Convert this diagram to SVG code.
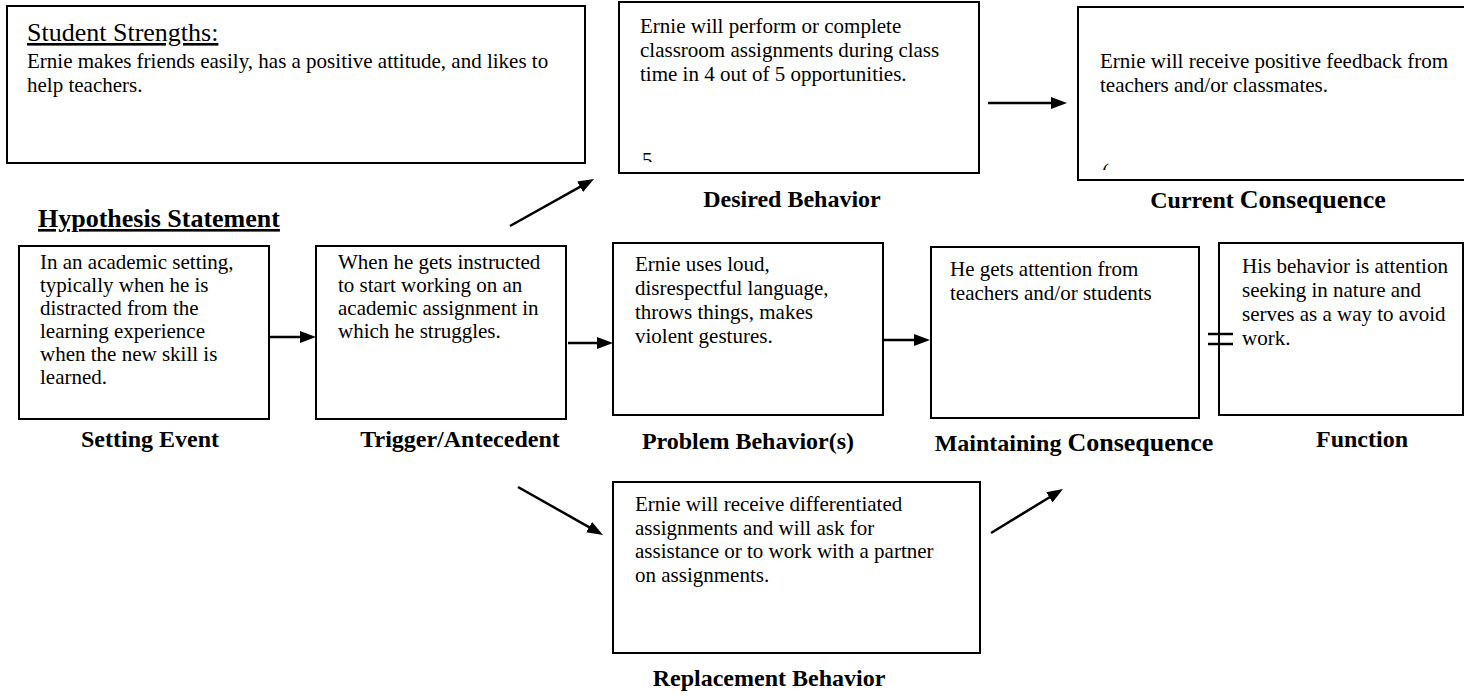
<svg xmlns="http://www.w3.org/2000/svg" width="1464" height="696" viewBox="0 0 1464 696">
<defs>
<style>
.box{fill:none;stroke:#000;stroke-width:2}
.boxw{fill:#fff;stroke:#000;stroke-width:2}
.t{font-family:"Liberation Serif","Times New Roman",serif;font-size:21px;fill:#000}
.lbl{font-family:"Liberation Serif","Times New Roman",serif;font-size:24px;font-weight:bold;fill:#000;text-anchor:middle}
.big{font-size:26px}
.conn line{stroke:#000;stroke-width:2.5;fill:none}
</style>
<marker id="ah" viewBox="0 0 16 12" refX="6" refY="6" markerWidth="16" markerHeight="12" markerUnits="userSpaceOnUse" orient="auto"><path d="M0,0 L16,6 L0,12 z" fill="#000"/></marker>
<clipPath id="c1"><rect x="620" y="140" width="100" height="22"/></clipPath>
<clipPath id="c2"><rect x="1080" y="150" width="100" height="20"/></clipPath>
</defs>
<rect width="1464" height="696" fill="#fff"/>

<g id="strengths">
<rect class="boxw" x="7" y="6" width="578" height="157"/>
<text class="t big" x="27" y="41" text-decoration="underline">Student Strengths:</text>
<text class="t" x="27" y="68">Ernie makes friends easily, has a positive attitude, and likes to</text>
<text class="t" x="27" y="92">help teachers.</text>
</g>

<g id="hypothesis">
<text class="lbl big" x="38" y="227" style="text-anchor:start" text-decoration="underline">Hypothesis Statement</text>
</g>

<g id="desired">
<rect class="boxw" x="619" y="2" width="360" height="171"/>
<text class="t" x="640" y="33">Ernie will perform or complete</text>
<text class="t" x="640" y="57">classroom assignments during class</text>
<text class="t" x="640" y="81">time in 4 out of 5 opportunities.</text>
<text class="t" x="642" y="167" clip-path="url(#c1)">5</text>
<text class="lbl" x="792" y="207">Desired Behavior</text>
</g>

<g id="current">
<rect class="boxw" x="1078" y="7" width="400" height="173"/>
<text class="t" x="1100" y="68">Ernie will receive positive feedback from</text>
<text class="t" x="1100" y="92">teachers and/or classmates.</text>
<text class="t" x="1102" y="178" clip-path="url(#c2)">(</text>
<text class="lbl" x="1268" y="208">Current <tspan class="big">Consequence</tspan></text>
</g>

<g id="setting">
<rect class="boxw" x="19" y="246" width="250" height="173"/>
<text class="t" x="40" y="269">In an academic setting,</text>
<text class="t" x="40" y="292">typically when he is</text>
<text class="t" x="40" y="315">distracted from the</text>
<text class="t" x="40" y="338">learning experience</text>
<text class="t" x="40" y="361">when the new skill is</text>
<text class="t" x="40" y="384">learned.</text>
<text class="lbl" x="150" y="447">Setting Event</text>
</g>

<g id="trigger">
<rect class="boxw" x="316" y="246" width="250" height="173"/>
<text class="t" x="338" y="269">When he gets instructed</text>
<text class="t" x="338" y="292">to start working on an</text>
<text class="t" x="338" y="315">academic assignment in</text>
<text class="t" x="338" y="338">which he struggles.</text>
<text class="lbl" x="460" y="447">Trigger/Antecedent</text>
</g>

<g id="problem">
<rect class="boxw" x="613" y="243" width="270" height="172"/>
<text class="t" x="635" y="271">Ernie uses loud,</text>
<text class="t" x="635" y="295">disrespectful language,</text>
<text class="t" x="635" y="319">throws things, makes</text>
<text class="t" x="635" y="343">violent gestures.</text>
<text class="lbl" x="748" y="449">Problem Behavior(s)</text>
</g>

<g id="maintaining">
<rect class="boxw" x="931" y="247" width="268" height="171"/>
<text class="t" x="950" y="276">He gets attention from</text>
<text class="t" x="950" y="300">teachers and/or students</text>
<text class="lbl" x="1074" y="451">Maintaining <tspan class="big">Consequence</tspan></text>
</g>

<g id="function">
<rect class="boxw" x="1219" y="243" width="244" height="172"/>
<text class="t" x="1242" y="273">His behavior is attention</text>
<text class="t" x="1242" y="297">seeking in nature and</text>
<text class="t" x="1242" y="321">serves as a way to avoid</text>
<text class="t" x="1242" y="345">work.</text>
<text class="lbl" x="1362" y="447">Function</text>
</g>

<g id="replacement">
<rect class="boxw" x="613" y="482" width="367" height="171"/>
<text class="t" x="635" y="511">Ernie will receive differentiated</text>
<text class="t" x="635" y="535">assignments and will ask for</text>
<text class="t" x="635" y="558">assistance or to work with a partner</text>
<text class="t" x="635" y="582">on assignments.</text>
<text class="lbl" x="769" y="686">Replacement Behavior</text>
</g>

<g id="connectors" class="conn">
<line x1="269" y1="337" x2="306" y2="337" marker-end="url(#ah)"/>
<line x1="568" y1="343" x2="603" y2="343" marker-end="url(#ah)"/>
<line x1="884" y1="340" x2="920" y2="340" marker-end="url(#ah)"/>
<line x1="988" y1="103" x2="1057" y2="103" marker-end="url(#ah)"/>
<line x1="510" y1="226" x2="585.3" y2="183.9" marker-end="url(#ah)"/>
<line x1="518" y1="487" x2="594.3" y2="530.1" marker-end="url(#ah)"/>
<line x1="991" y1="533" x2="1054.5" y2="494.2" marker-end="url(#ah)"/>
<line x1="1208" y1="334" x2="1233" y2="334"/>
<line x1="1208" y1="344" x2="1233" y2="344"/>
</g>
</svg>
